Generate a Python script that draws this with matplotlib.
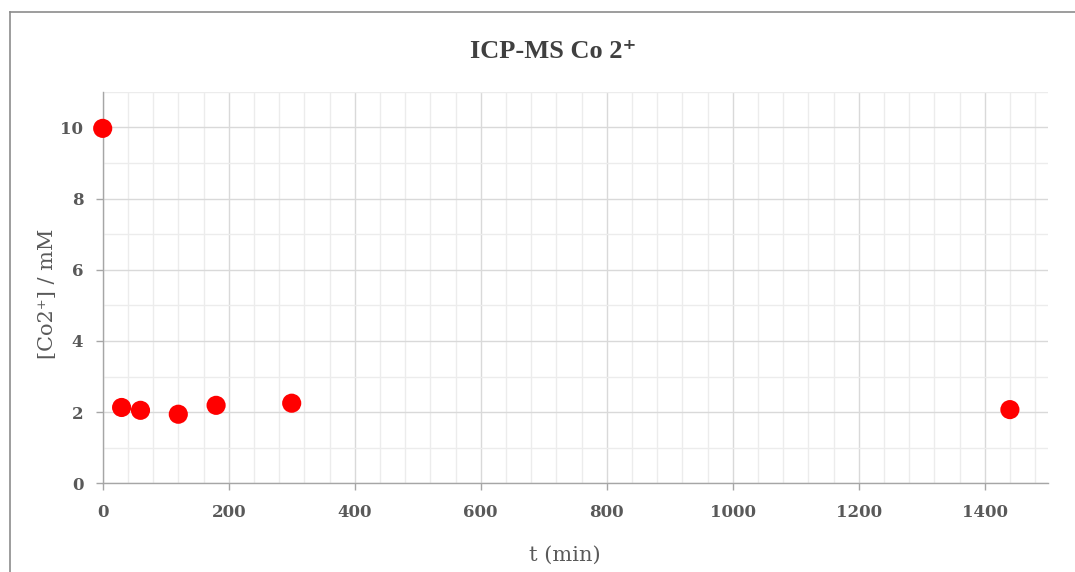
import matplotlib
matplotlib.use("Agg")
import matplotlib.pyplot as plt
from matplotlib.lines import Line2D
from matplotlib.ticker import MultipleLocator

# Data
t_min = [0, 30, 60, 120, 180, 300, 1440]
co_mM = [9.97, 2.13, 2.05, 1.94, 2.19, 2.25, 2.07]

title = "ICP-MS Co 2\u207a"
xlabel = "t (min)"
ylabel = "[Co2\u207a] / mM"

W, H = 1075, 572
fig = plt.figure(figsize=(W / 100, H / 100), dpi=100)
fig.patch.set_facecolor("white")

ax = fig.add_axes([102.7 / W, 1 - 483.3 / H, (1047.7 - 102.7) / W, (483.3 - 91.7) / H])
ax.set_xlim(0, 1500)
ax.set_ylim(0, 11)

ax.xaxis.set_major_locator(MultipleLocator(200))
ax.xaxis.set_minor_locator(MultipleLocator(40))
ax.yaxis.set_major_locator(MultipleLocator(2))
ax.yaxis.set_minor_locator(MultipleLocator(1))

ax.grid(which="major", color="#d9d9d9", linewidth=1.0)
ax.grid(which="minor", color="#ececec", linewidth=1.0)
ax.set_axisbelow(True)

for s in ["top", "right"]:
    ax.spines[s].set_visible(False)
for s in ["left", "bottom"]:
    ax.spines[s].set_color("#a6a6a6")
    ax.spines[s].set_linewidth(1.0)

ax.tick_params(which="major", length=5, color="#a6a6a6", width=1.0,
               labelcolor="#595959")
ax.tick_params(which="minor", length=0)
ax.tick_params(axis="x", pad=10)
ax.tick_params(axis="y", pad=9)

for lab in ax.get_xticklabels() + ax.get_yticklabels():
    lab.set_family(["DejaVu Serif"])
    lab.set_fontweight("bold")
    lab.set_fontsize(12)

ax.scatter(t_min, co_mM, s=190, color="#ff0000", edgecolors="none", zorder=3, clip_on=False)

fig.text(553 / W, 1 - 52 / H, title, ha="center", va="center", fontsize=19,
         family=["Liberation Serif", "DejaVu Serif"], color="#404040", fontweight="bold")
fig.text(565 / W, 1 - 555 / H, xlabel, ha="center", va="center", fontsize=15,
         family=["DejaVu Serif"], color="#595959")
fig.text(48 / W, 1 - 294 / H, ylabel, ha="center", va="center", fontsize=15,
         rotation=90, family=["DejaVu Serif"], color="#595959")

# outer border
fig.add_artist(Line2D([9.5 / W, 9.5 / W], [0, 1 - 11.5 / H], transform=fig.transFigure,
                      color="#8c8c8c", linewidth=1.2))
fig.add_artist(Line2D([9.5 / W, 1], [1 - 11.5 / H, 1 - 11.5 / H], transform=fig.transFigure,
                      color="#8c8c8c", linewidth=1.2))

fig.savefig("out.png", dpi=100)
